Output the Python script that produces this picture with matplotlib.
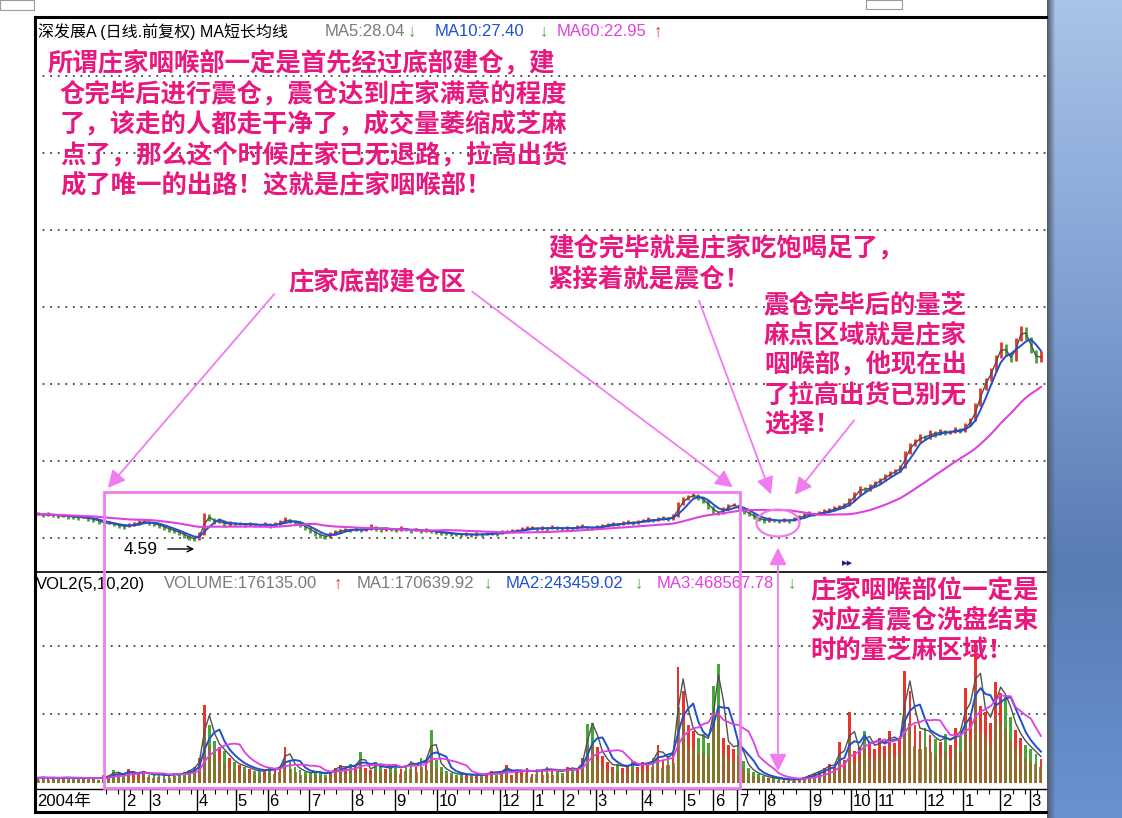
import numpy as np
import pandas as pd
import matplotlib
matplotlib.use("Agg")
import matplotlib.pyplot as plt
from matplotlib.patches import Rectangle, Ellipse, FancyArrowPatch
from matplotlib.lines import Line2D

# ---- data (one bar ~ 2.6 trading sessions, Jan 2004 - Mar 2006) ----
close = [
    7.70, 7.62, 7.68, 7.55, 7.48, 7.52, 7.40, 7.35, 7.28, 7.30,
    7.15, 7.02, 6.80, 6.55, 6.62, 6.45, 6.30, 6.18, 6.35, 6.50,
    6.72, 6.80, 6.65, 6.48, 6.30, 6.05, 5.80, 5.62, 5.40, 5.05,
    4.80, 4.62, 5.30, 7.60, 7.10, 6.70, 6.85, 6.40, 6.60, 6.50,
    6.55, 6.38, 6.50, 6.42, 6.35, 6.48, 6.30, 6.45, 6.70, 7.05,
    6.90, 6.62, 6.40, 6.05, 5.70, 5.35, 5.05, 4.95, 5.25, 5.55,
    5.70, 5.82, 5.78, 5.90, 5.75, 5.85, 6.20, 5.95, 5.80, 5.92,
    5.88, 5.75, 5.95, 5.85, 5.70, 5.78, 5.65, 5.72, 5.60, 5.50,
    5.42, 5.38, 5.30, 5.25, 5.20, 5.28, 5.18, 5.25, 5.22, 5.30,
    5.40, 5.35, 5.48, 5.55, 5.62, 5.70, 5.85, 5.95, 6.05, 5.90,
    6.02, 5.95, 6.10, 6.00, 5.92, 6.05, 5.98, 6.12, 6.20, 6.05,
    5.98, 6.15, 6.30, 6.40, 6.55, 6.45, 6.60, 6.72, 6.65, 6.80,
    6.90, 7.05, 6.95, 7.10, 7.25, 7.15, 7.50, 8.90, 9.50, 9.85,
    10.05, 9.70, 9.30, 8.60, 8.00, 7.85, 8.30, 8.75, 8.85, 8.40,
    8.00, 7.70, 7.35, 7.10, 6.90, 7.05, 6.95, 6.85, 7.00, 6.92,
    7.10, 7.35, 7.60, 7.80, 7.70, 7.85, 8.05, 8.20, 8.40, 8.60,
    8.85, 9.40, 10.20, 10.90, 10.60, 11.10, 11.50, 11.90, 12.30, 12.70,
    13.00, 13.40, 15.20, 16.10, 16.60, 17.20, 17.00, 17.70, 17.40, 17.90,
    17.60, 17.75, 18.10, 17.80, 18.60, 19.20, 21.00, 22.90, 24.10, 25.30,
    26.90, 28.40, 27.20, 26.50, 28.90, 30.40, 29.20, 27.60, 26.40, 27.30,
]

volume_k = [
    38, 42, 35, 40, 33, 45, 36, 38, 30, 42,
    35, 40, 25, 55, 48, 95, 62, 58, 105, 60,
    70, 85, 62, 55, 68, 50, 58, 75, 60, 80,
    95, 120, 180, 570, 420, 310, 260, 230, 180, 150,
    130, 120, 105, 90, 85, 95, 110, 100, 125, 265,
    160, 120, 95, 80, 70, 85, 75, 60, 90, 110,
    130, 105, 140, 120, 225, 110, 95, 150, 130, 100,
    115, 140, 100, 135, 160, 120, 185, 150, 390, 170,
    120, 90, 75, 60, 70, 55, 65, 50, 62, 70,
    85, 75, 90, 130, 60, 95, 80, 110, 65, 100,
    90, 115, 85, 95, 75, 120, 100, 105, 180, 430,
    440, 260, 200, 150, 120, 140, 110, 130, 160, 120,
    150, 140, 180, 280, 170, 200, 230, 850, 670, 420,
    380, 330, 360, 290, 710, 870, 330, 280, 250, 300,
    160, 110, 80, 65, 50, 40, 35, 30, 25, 22,
    28, 32, 45, 60, 75, 90, 110, 140, 120, 300,
    170, 520, 230, 260, 380, 300, 250, 330, 270, 380,
    290, 330, 820, 670, 420, 380, 400, 350, 320, 300,
    360, 280, 400, 350, 690, 480, 1040, 560, 520, 440,
    740, 660, 630, 480, 390, 330, 280, 250, 210, 176,
]

month_pos = [17.1, 22.2, 31.5, 39.3, 45.6, 53.8, 62.3, 70.8, 79.2, 91.7,
             98.2, 104.2, 110.7, 119.8, 128.2, 133.9, 138.7, 144.2, 153.2,
             161.3, 166.3, 176.0, 183.5, 190.9, 196.8]
month_lbl = ["2", "3", "4", "5", "6", "7", "8", "9", "10", "12",
             "1", "2", "3", "4", "5", "6", "7", "8", "9",
             "10", "11", "12", "1", "2", "3"]

note_top = ["所谓庄家咽喉部一定是首先经过底部建仓，建",
            "仓完毕后进行震仓，震仓达到庄家满意的程度",
            "了，该走的人都走干净了，成交量萎缩成芝麻",
            "点了，那么这个时候庄家已无退路，拉高出货",
            "成了唯一的出路！这就是庄家咽喉部！"]
note_mid = ["建仓完毕就是庄家吃饱喝足了，", "紧接着就是震仓！"]
note_right = ["震仓完毕后的量芝", "麻点区域就是庄家", "咽喉部，他现在出",
              "了拉高出货已别无", "选择！"]
note_vol = ["庄家咽喉部位一定是", "对应着震仓洗盘结束", "时的量芝麻区域！"]
note_base = "庄家底部建仓区"

# ---- styling ----
W, H = 1122, 818
RED, GREEN, OLIVE = "#E8352B", "#45A835", "#8C6E2A"
PINK_TXT, PINK_LN = "#E8187E", "#F07CF0"
MAG, BLUE, GRAY = "#E040E0", "#1E50D0", "#505050"
LAT = ["Liberation Sans", "DejaVu Sans", "Noto Sans CJK SC"]
CJK = ["Noto Sans CJK SC", "DejaVu Sans"]


def fx(x):
    return x / W


def fy(y):
    return 1 - y / H


fig = plt.figure(figsize=(W / 100, H / 100), dpi=100)
fig.patch.set_facecolor("white")

c = np.array(close)
o = np.r_[c[0], c[:-1]]
up = c >= o
x = np.arange(len(c))
s = pd.Series(c)

# price panel
ax = fig.add_axes([fx(35), fy(572), fx(1046) - fx(35), fy(17) - fy(572)])
ax.set_xlim(-0.6, 200)
ax.set_ylim(0.65, 68.34)
ax.axis("off")
for lv in [4.8, 14.2, 23.6, 33.0, 42.4, 51.8, 61.2]:
    ax.axhline(lv, color="#404040", lw=1.3, ls=(0, (1, 3.2)), zorder=1)
ax.vlines(x[up], o[up] - 0.1, c[up] + 0.25, color=RED, lw=2.0, zorder=3)
ax.vlines(x[~up], c[~up] - 0.25, o[~up] + 0.1, color=GREEN, lw=2.0, zorder=3)
ax.plot(x, s.rolling(2, min_periods=1).mean(), color=GRAY, lw=1.0, zorder=4)
ax.plot(x, s.rolling(4, min_periods=1).mean(), color=BLUE, lw=1.4, zorder=4)
ax.plot(x, s.rolling(23, min_periods=1).mean(), color=MAG, lw=1.5, zorder=4)

# volume panel
v = np.array(volume_k, dtype=float)
vs = pd.Series(v)
axv = fig.add_axes([fx(35), fy(789), fx(1046) - fx(35), fy(572) - fy(789)])
axv.set_xlim(-0.6, 200)
axv.set_ylim(-43.8, 1540)
axv.axis("off")
for lv in [500, 1000]:
    axv.axhline(lv, color="#404040", lw=1.3, ls=(0, (1, 3.2)), zorder=1)
axv.bar(x, v, width=0.55, color=np.where(up, RED, GREEN), zorder=2)
axv.bar(x, v * 0.65, width=0.6, color=OLIVE, alpha=0.85, zorder=2)
axv.plot(x, vs.rolling(2, min_periods=1).mean(), color=GRAY, lw=1.0, zorder=4)
axv.plot(x, vs.rolling(4, min_periods=1).mean(), color=BLUE, lw=1.4, zorder=4)
axv.plot(x, vs.rolling(8, min_periods=1).mean(), color=MAG, lw=1.3, zorder=4)

# date strip
axd = fig.add_axes([fx(35), fy(812), fx(1046) - fx(35), fy(789) - fy(812)])
axd.set_xlim(-0.6, 200)
axd.set_ylim(0, 1)
axd.axis("off")
axd.vlines(month_pos, 0, 1, color="black", lw=1.0)
for m in np.arange(1.5, 200, 2.4):
    if min(abs(m - p) for p in month_pos) > 0.9 and m > 12:
        axd.vlines(m, 0.78, 1, color="black", lw=0.8)
for p, lb in zip(month_pos, month_lbl):
    axd.text(p + 0.35, 0.45, lb, ha="left", va="center", fontsize=12,
             family=LAT)
axd.text(-0.2, 0.45, "2004年", ha="left", va="center", fontsize=12,
         family=LAT)

# frame lines
for (x0, y0, x1, y1, lw) in [(35, 17, 1046, 17, 2.2), (35, 17, 35, 812, 2.2),
                             (35, 572, 1046, 572, 1.2), (35, 789, 1046, 789, 1.0),
                             (35, 812, 1046, 812, 2.2)]:
    fig.add_artist(Line2D([fx(x0), fx(x1)], [fy(y0), fy(y1)], color="black",
                          lw=lw, transform=fig.transFigure))
for (x0, y0, x1, y1) in [(0, 0, 34, 10), (866, 0, 902, 9)]:
    fig.add_artist(Rectangle((fx(x0), fy(y1)), fx(x1 - x0), (y1 - y0) / H,
                             fill=False, ec="#9a9a9a", lw=0.8,
                             transform=fig.transFigure))

# header lines
fig.text(fx(38), fy(32), "深发展A (日线.前复权) MA短长均线", fontsize=11.5,
         family=LAT, va="center")
for xp, txt, col in [(325, "MA5:28.04", "#7a7a7a"), (408, "↓", GREEN),
                     (435, "MA10:27.40", BLUE), (540, "↓", GREEN),
                     (557, "MA60:22.95", MAG), (654, "↑", RED)]:
    fig.text(fx(xp), fy(32), txt, fontsize=12, family=LAT, color=col,
             va="center", weight="bold" if len(txt) == 1 else "normal")
for xp, txt, col in [(36, "VOL2(5,10,20)", "black"),
                     (164, "VOLUME:176135.00", "#7a7a7a"), (334, "↑", RED),
                     (357, "MA1:170639.92", "#7a7a7a"), (484, "↓", GREEN),
                     (506, "MA2:243459.02", BLUE), (635, "↓", GREEN),
                     (657, "MA3:468567.78", MAG), (788, "↓", GREEN)]:
    fig.text(fx(xp), fy(584), txt, fontsize=12, family=LAT, color=col,
             va="center", weight="bold" if len(txt) == 1 else "normal")

fig.text(fx(124), fy(549), "4.59", fontsize=12.5, family=LAT, va="center")
fig.add_artist(FancyArrowPatch((fx(165), fy(549)), (fx(197), fy(549)),
                               arrowstyle="->", mutation_scale=10, lw=1.0,
                               color="black", transform=fig.transFigure))
fig.text(fx(842), fy(563), "▸▸", fontsize=8, family=LAT, color="#1A237E",
         va="center")

# pink annotations
def note(lines, xs, y0, step):
    for k, ln in enumerate(lines):
        xx = xs[k] if isinstance(xs, list) else xs
        fig.text(fx(xx), fy(y0 + k * step), ln, fontsize=18.3, family=CJK,
                 weight="bold", color=PINK_TXT, va="center", ha="left")


note(note_top, [48, 60, 60, 60, 60], 63, 30.5)
note([note_base], 288, 282, 0)
note(note_mid, 548, 248, 32)
note(note_right, 764, 305, 30)
note(note_vol, 810, 590, 30)

fig.add_artist(Rectangle((fx(104), fy(788)), fx(740 - 104), (788 - 492) / H,
                         fill=False, ec=PINK_LN, lw=2.0, zorder=6,
                         transform=fig.transFigure))
fig.add_artist(Ellipse((fx(778), fy(523)), 43 / W, 27 / H, fill=False,
                       ec=PINK_LN, lw=1.6, zorder=6, transform=fig.transFigure))
for (x0, y0, x1, y1, st) in [(276, 292, 106, 490, "-|>"), (470, 290, 735, 489, "-|>"),
                             (698, 298, 772, 497, "-|>"), (856, 418, 793, 497, "-|>"),
                             (778, 545, 778, 774, "<|-|>")]:
    fig.add_artist(FancyArrowPatch((fx(x0), fy(y0)), (fx(x1), fy(y1)),
                                   arrowstyle=st, mutation_scale=26, lw=1.3,
                                   color=PINK_LN, zorder=6,
                                   transform=fig.transFigure))

# right-hand blue window panel
sy = [0, 300, 560, 818]
stops = np.array([[168, 196, 232], [128, 160, 210], [88, 124, 180],
                  [104, 146, 210]]) / 255
colv = np.stack([np.interp(np.arange(H), sy, stops[:, k]) for k in range(3)], axis=1)
panel = np.repeat(colv[:, None, :], 75, axis=1)
shade = np.clip(np.arange(75) / 8, 0, 1)[None, :, None]
panel = panel * shade + np.array([80, 92, 110]) / 255 * (1 - shade)
axb = fig.add_axes([fx(1047), 0, fx(75), 1])
axb.imshow(panel, aspect="auto", interpolation="bilinear")
axb.axis("off")

fig.savefig("out.png", dpi=100)
